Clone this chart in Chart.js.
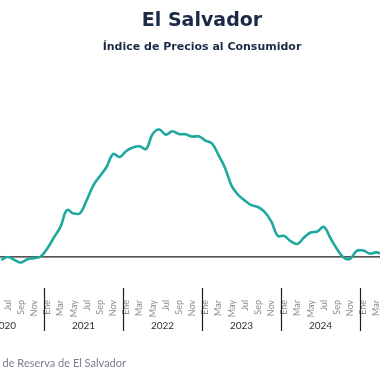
<!DOCTYPE html>
<html><head><meta charset="utf-8">
<script src="https://cdn.jsdelivr.net/npm/chart.js@4/dist/chart.umd.min.js"></script>
<style>
html,body{margin:0;padding:0;width:380px;height:380px;overflow:hidden;background:#fff;}
#wrap{position:absolute;left:-35px;top:0;width:480px;height:380px;}
#src{position:absolute;top:356px;right:254px;white-space:nowrap;font:11px Lato, sans-serif;color:#7d7d8c;}
</style></head><body>
<div id="wrap"><canvas id="c" width="480" height="380"></canvas></div>
<div id="src">Fuente: Banco Central de Reserva de El Salvador</div>
<script>
const months = ['Ene','Feb','Mar','Abr','May','Jun','Jul','Ago','Sep','Oct','Nov','Dic'];
const years = [2020, 2021, 2022, 2023, 2024, 2025];
const v2020 = [null, null, null, null, null, -0.18, 0.00, -0.18, -0.34, -0.14, -0.07, 0.03];
const v2021 = [0.52, 1.19, 1.84, 2.88, 2.66, 2.69, 3.49, 4.38, 4.96, 5.51, 6.31, 6.12];
const v2022 = [6.49, 6.70, 6.78, 6.61, 7.53, 7.81, 7.49, 7.70, 7.53, 7.51, 7.37, 7.39];
const v2023 = [7.13, 6.95, 6.25, 5.45, 4.35, 3.80, 3.46, 3.18, 3.06, 2.76, 2.20, 1.29];
const v2024 = [1.29, 0.95, 0.80, 1.19, 1.50, 1.56, 1.84, 1.16, 0.49, -0.03, -0.12, 0.37];
const v2025 = [0.40, 0.21, 0.28, 0.15, null, null, null, null, null, null, null, null];

const labels = [];
years.forEach(y => months.forEach(m => labels.push(m + ' ' + y)));
const values = [].concat(v2020, v2021, v2022, v2023, v2024, v2025);

const decor = {
  id: 'decor',
  beforeDatasetsDraw(chart) {
    const {ctx, chartArea, scales} = chart;
    const y0 = scales.y.getPixelForValue(0);
    ctx.save();
    ctx.strokeStyle = '#1e1e1e';
    ctx.lineWidth = 1.2;
    ctx.beginPath();
    ctx.moveTo(chartArea.left, y0);
    ctx.lineTo(chartArea.right, y0);
    ctx.stroke();
    ctx.restore();
  },
  afterDraw(chart) {
    const {ctx, chartArea, scales} = chart;
    const x = scales.x;
    const half = (x.getPixelForValue(1) - x.getPixelForValue(0)) / 2;
    const top = chartArea.bottom;
    ctx.save();
    ctx.strokeStyle = '#1e1e1e';
    ctx.lineWidth = 1.2;
    ctx.fillStyle = '#333';
    ctx.font = '10px Lato, sans-serif';
    ctx.textAlign = 'center';
    ctx.textBaseline = 'middle';
    years.forEach((yr, i) => {
      const first = i * 12, last = i * 12 + 11;
      const xl = x.getPixelForValue(first) - half;
      const xr = x.getPixelForValue(last) + half;
      if (i > 0) {
        ctx.beginPath();
        ctx.moveTo(Math.round(xl) + 0.5, top);
        ctx.lineTo(Math.round(xl) + 0.5, top + 43);
        ctx.stroke();
      }
      ctx.fillText(String(yr), (xl + xr) / 2, top + 38);
    });
    ctx.restore();
  }
};

new Chart(document.getElementById('c'), {
  type: 'line',
  data: {
    labels: labels,
    datasets: [{
      data: values,
      borderColor: '#1fa8a0',
      borderWidth: 2.6,
      pointRadius: 0,
      tension: 0.4,
      fill: false,
      spanGaps: false
    }]
  },
  options: {
    responsive: false,
    devicePixelRatio: 1,
    animation: false,
    layout: {padding: {left: 0, right: 6, top: 0, bottom: 30}},
    plugins: {
      legend: {display: false},
      tooltip: {enabled: false},
      title: {
        display: true,
        text: 'El Salvador',
        color: '#1b2a47',
        font: {family: 'DejaVu Sans', size: 19, weight: 'bold'},
        padding: {top: 10, bottom: 3}
      },
      subtitle: {
        display: true,
        text: 'Índice de Precios al Consumidor',
        color: '#1b2a47',
        font: {family: 'DejaVu Sans', size: 11, weight: 'bold'},
        padding: {top: 5, bottom: 56}
      }
    },
    scales: {
      x: {
        type: 'category',
        offset: true,
        grid: {display: false},
        border: {display: false},
        ticks: {
          autoSkip: false, minRotation: 90, maxRotation: 90, padding: 4,
          color: '#8c8c8c', font: {family: 'Lato', size: 9},
          callback: (v, i) => (i % 2 === 0 ? months[i % 12] : '')
        },
        afterFit: (s) => { s.height = 62; s.paddingLeft = 0; s.paddingRight = 0; }
      },
      y: {
        display: false,
        min: -1.9,
        max: 9
      }
    }
  },
  plugins: [decor]
});
</script>
</body></html>
